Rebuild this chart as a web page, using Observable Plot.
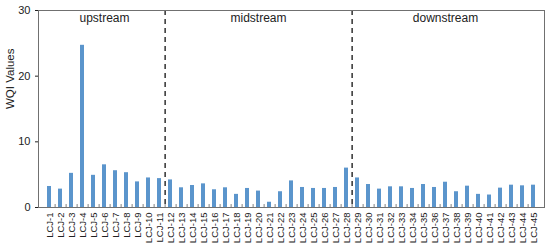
<!DOCTYPE html>
<html><head><meta charset="utf-8">
<script src="https://cdn.jsdelivr.net/npm/d3@7"></script>
<script src="https://cdn.jsdelivr.net/npm/@observablehq/plot@0.6"></script>
<style>body{margin:0;background:#fff}</style>
</head><body><div id="chart"></div>
<script>
const sites = ["LCJ-1","LCJ-2","LCJ-3","LCJ-4","LCJ-5","LCJ-6","LCJ-7","LCJ-8","LCJ-9","LCJ-10",
  "LCJ-11","LCJ-12","LCJ-13","LCJ-14","LCJ-15","LCJ-16","LCJ-17","LCJ-18","LCJ-19","LCJ-20",
  "LCJ-21","LCJ-22","LCJ-23","LCJ-24","LCJ-25","LCJ-26","LCJ-27","LCJ-28","LCJ-29","LCJ-30",
  "LCJ-31","LCJ-32","LCJ-33","LCJ-34","LCJ-35","LCJ-36","LCJ-37","LCJ-38","LCJ-39","LCJ-40",
  "LCJ-41","LCJ-42","LCJ-43","LCJ-44","LCJ-45"];
const wqi = [3.2, 2.8, 5.2, 24.7, 4.9, 6.5, 5.6, 5.3, 3.9, 4.5,
  4.4, 4.2, 3.0, 3.35, 3.6, 2.7, 3.0, 2.0, 2.9, 2.5,
  0.8, 2.4, 4.05, 3.05, 2.9, 2.9, 3.05, 6.0, 4.5, 3.5,
  2.8, 3.15, 3.15, 2.9, 3.5, 3.05, 3.85, 2.4, 3.25, 2.0,
  1.9, 2.95, 3.4, 3.3, 3.4];
const sections = ["upstream", "midstream", "downstream"];
const sectionCenters = ["LCJ-6", "LCJ-20", "LCJ-37"];
const boundaries = ["LCJ-11", "LCJ-28"];
const yTicks = [0, 10, 20, 30];
const yTitle = "WQI Values";

const W = 550, H = 252, ML = 38, MR = 6, MT = 10, MB = 45;
const step = (W - ML - MR) / sites.length;
const data = sites.map((s, i) => ({site: s, wqi: wqi[i]}));

const chart = Plot.plot({
  width: W, height: H, marginLeft: ML, marginRight: MR, marginTop: MT, marginBottom: MB,
  style: {fontFamily: "Liberation Sans, Arial, sans-serif", color: "#222", background: "#fff"},
  x: {domain: sites, paddingInner: 0.68, paddingOuter: 0.34, label: null},
  y: {domain: [0, 30], label: null},
  marks: [
    Plot.barY(data, {x: "site", y: "wqi", fill: "#5b95cc"}),
    Plot.ruleX(sites.slice(0, -1), {x: d => d, dx: step / 2, y1: 0, y2: 0.45, stroke: "#808080"}),
    Plot.ruleX(boundaries, {x: d => d, dx: step / 2, stroke: "#111", strokeWidth: 1.3, strokeDasharray: "5,4"}),
    Plot.frame({stroke: "#707070"}),
    Plot.axisY({ticks: yTicks, tickSize: 3, tickPadding: 5, fontSize: 11, label: null}),
    Plot.text([yTitle], {frameAnchor: "left", text: d => d, rotate: -90, dx: -28, fontSize: 11.5}),
    Plot.axisX({tickSize: 0, tickRotate: -90, tickPadding: 5, fontSize: 9.5, label: null}),
    Plot.text(sections, {x: (d, i) => sectionCenters[i], y: 30, text: d => d, lineAnchor: "top", dy: 3, fontSize: 12})
  ]
});
document.getElementById("chart").appendChild(chart);
</script>
</body></html>
